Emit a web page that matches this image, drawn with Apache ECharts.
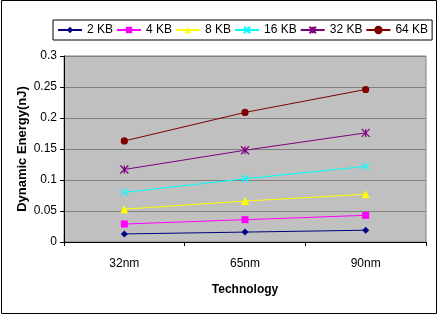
<!DOCTYPE html>
<html>
<head>
<meta charset="utf-8">
<script src="https://cdn.jsdelivr.net/npm/echarts@6/dist/echarts.min.js"></script>
<style>
  html, body { margin: 0; padding: 0; background: #fff; }
  #main { width: 438px; height: 316px; }
</style>
</head>
<body>
<div id="main"></div>
<script>
// data
const technologies = ['32nm', '65nm', '90nm'];
const seriesNames = ['2 KB', '4 KB', '8 KB', '16 KB', '32 KB', '64 KB'];
const kb2 = [0.013, 0.016, 0.019];
const kb4 = [0.029, 0.036, 0.043];
const kb8 = [0.053, 0.066, 0.077];
const kb16 = [0.080, 0.102, 0.122];
const kb32 = [0.117, 0.148, 0.176];
const kb64 = [0.163, 0.209, 0.246];
const yTicks = [0, 0.05, 0.1, 0.15, 0.2, 0.25, 0.3];

const values = [kb2, kb4, kb8, kb16, kb32, kb64];
const colors = ['#000080', '#ff00ff', '#ffff00', '#00ffff', '#800080', '#800000'];
const crossPath = 'path://M0,0L10,10M10,0L0,10';
const starPath = 'path://M0,0L10,10M10,0L0,10M5,0L5,10';
const symbols = ['diamond', 'rect', 'triangle', crossPath, starPath, 'circle'];
const sizes = [7, 7, 8, 7, 8, 6];

const chart = echarts.init(document.getElementById('main'));

chart.setOption({
  animation: false,
  textStyle: { fontFamily: 'Liberation Sans, Arial, sans-serif' },
  graphic: [{
    type: 'rect',
    shape: { x: 1.5, y: 0.5, width: 435, height: 313 },
    style: { fill: 'none', stroke: '#000', lineWidth: 1 }
  }],
  legend: {
    left: 53,
    top: 20,
    padding: [4, 4, 4, 4],
    borderColor: '#000',
    borderWidth: 1,
    itemWidth: 24,
    itemHeight: 8,
    itemGap: 3,
    textStyle: { fontSize: 12, color: '#000' },
    data: seriesNames
  },
  grid: {
    left: 64,
    top: 56,
    width: 362,
    height: 186,
    show: true,
    backgroundColor: '#c0c0c0',
    borderColor: '#808080',
    borderWidth: 1
  },
  xAxis: {
    type: 'category',
    data: technologies,
    boundaryGap: true,
    name: 'Technology',
    nameLocation: 'middle',
    nameGap: 42,
    nameMoveOverlap: false,
    nameTextStyle: { fontSize: 12, fontWeight: 'bold', color: '#000' },
    axisLine: { lineStyle: { color: '#000' } },
    axisTick: { show: true, length: 4, alignWithLabel: false, lineStyle: { color: '#000' } },
    axisLabel: { fontSize: 12, color: '#000', margin: 16 },
    splitLine: { show: false }
  },
  yAxis: {
    type: 'value',
    min: 0,
    max: yTicks[yTicks.length - 1],
    interval: yTicks[1] - yTicks[0],
    name: 'Dynamic Energy(nJ)',
    nameLocation: 'middle',
    nameGap: 35,
    nameMoveOverlap: false,
    nameTextStyle: { fontSize: 13, fontWeight: 'bold', color: '#000' },
    axisLine: { show: true, lineStyle: { color: '#000' } },
    axisTick: { show: true, length: 4, inside: false, lineStyle: { color: '#000' } },
    axisLabel: { fontSize: 12, color: '#000', margin: 7 },
    splitLine: { show: true, lineStyle: { color: '#808080', width: 1 } }
  },
  series: seriesNames.map((name, i) => ({
    name: name,
    type: 'line',
    data: values[i],
    symbol: symbols[i],
    symbolSize: sizes[i],
    showAllSymbol: true,
    color: colors[i],
    lineStyle: { color: colors[i], width: 1 },
    itemStyle: i >= 3
      ? { color: colors[i], borderColor: colors[i], borderWidth: 1.2 }
      : { color: colors[i] }
  }))
});
</script>
</body>
</html>
